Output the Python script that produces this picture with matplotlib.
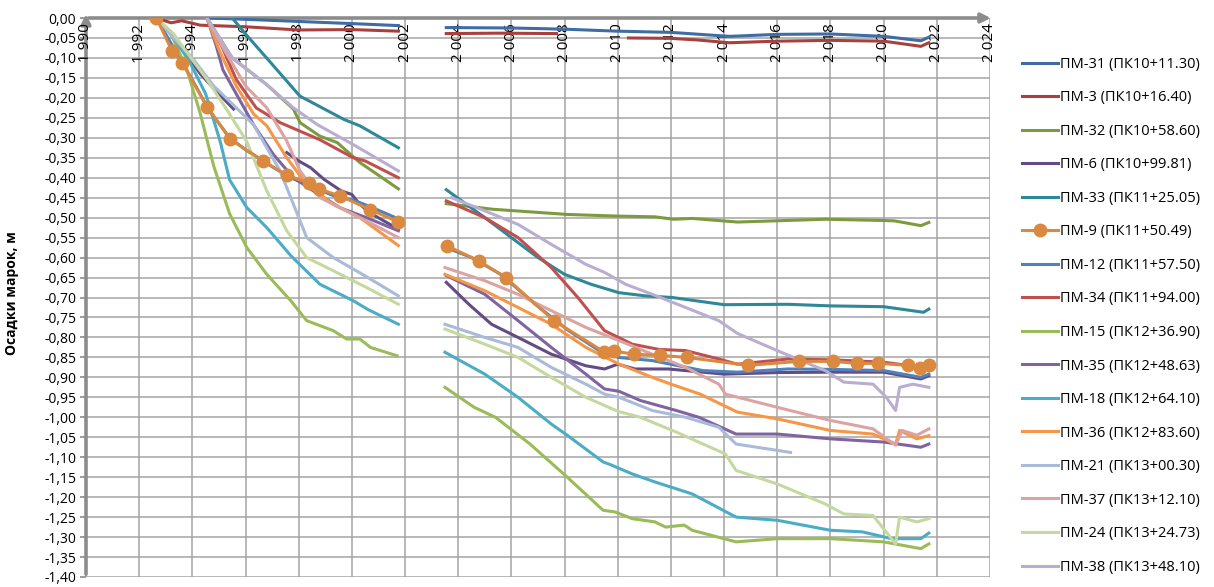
import numpy as np
import matplotlib
matplotlib.use("Agg")
import matplotlib.pyplot as plt
from matplotlib.transforms import blended_transform_factory

nan = np.nan

# ---- data: year (decimal), settlement (m); nan = gap between surveys ----
pm31_t = [1994.55, 1995.5, 1997.0, 1998.5, 2000.0, 2001.75, nan,
          2003.55, 2006.0, 2008.0, 2010.0, 2012.0, 2014.2, 2016.0, 2018.0, 2020.0, 2021.4, 2021.7]
pm31_s = [0.0, -0.002, -0.006, -0.010, -0.014, -0.019, nan,
          -0.024, -0.025, -0.028, -0.033, -0.036, -0.046, -0.041, -0.040, -0.046, -0.057, -0.048]

pm3_t = [1992.65, 1993.2, 1993.6, 1994.3, 1996.0, 1998.0, 2000.0, 2001.75, nan,
         2003.55, 2005.5, 2007.7, nan,
         2010.4, 2012.0, 2013.0, 2014.2, 2016.0, 2018.0, 2020.0, 2021.4, 2021.7]
pm3_s = [0.0, -0.012, -0.007, -0.018, -0.022, -0.030, -0.029, -0.033, nan,
         -0.039, -0.038, -0.039, nan,
         -0.050, -0.051, -0.055, -0.062, -0.058, -0.056, -0.058, -0.071, -0.062]

pm32_t = [1994.55, 1995.5, 1996.8, 1997.8, 1998.05, 1998.8, 1999.45, 2000.3, 2001.05, 2001.75, nan,
          2003.55, 2005.3, 2008.1, 2009.9, 2011.4, 2012.1, 2012.8, 2014.5, 2016.4, 2017.8, 2019.9,
          2020.4, 2021.4, 2021.7]
pm32_s = [0.0, -0.10, -0.167, -0.228, -0.262, -0.296, -0.312, -0.362, -0.396, -0.428, nan,
          -0.465, -0.479, -0.492, -0.496, -0.498, -0.504, -0.502, -0.511, -0.507, -0.504, -0.507,
          -0.508, -0.520, -0.512]

pm6_t = [1993.7, 1994.3, 1995.0, 1995.55, nan,
         1997.55, 1998.0, 1998.45, 1998.95, 1999.6, 2000.0, 2000.25, 2000.65, 2001.75, nan,
         2003.55, 2004.4, 2005.25, 2006.25, 2007.5, 2008.8, 2009.5, 2010.0, 2010.65, 2011.9,
         2014.0, 2016.0, 2018.0, 2020.0, 2021.4, 2021.7]
pm6_s = [-0.085, -0.14, -0.19, -0.228, nan,
         -0.337, -0.358, -0.375, -0.404, -0.433, -0.442, -0.463, -0.487, -0.529, nan,
         -0.662, -0.717, -0.767, -0.800, -0.842, -0.871, -0.879, -0.867, -0.879, -0.879,
         -0.892, -0.888, -0.887, -0.887, -0.904, -0.896]

pm33_t = [1995.5, 1996.0, 1996.95, 1998.05, 1998.4, 1999.7, 2000.3, 2001.75, nan,
          2003.55, 2005.0, 2006.0, 2007.0, 2008.0, 2009.0, 2010.05, 2011.05, 2012.05, 2014.0,
          2016.4, 2018.0, 2020.0, 2021.5, 2021.7]
pm33_s = [0.0, -0.04, -0.112, -0.196, -0.208, -0.254, -0.270, -0.325, nan,
          -0.430, -0.500, -0.550, -0.600, -0.642, -0.667, -0.688, -0.696, -0.700, -0.718,
          -0.717, -0.721, -0.723, -0.737, -0.729]

pm9_t = [1992.65, 1993.24, 1993.62, 1994.55, 1995.43, 1996.67, 1997.56, 1998.37, 1998.75,
         1999.57, 2000.7, 2001.75, nan,
         2003.58, 2004.77, 2005.78, 2007.6, 2009.5, 2009.85, 2010.6, 2011.6, 2012.6, 2014.9,
         2016.8, 2018.1, 2019.0, 2019.8, 2020.9, 2021.35, 2021.7]
pm9_s = [0.0, -0.083, -0.112, -0.222, -0.304, -0.358, -0.394, -0.413, -0.428,
         -0.446, -0.480, -0.511, nan,
         -0.571, -0.608, -0.650, -0.758, -0.837, -0.834, -0.842, -0.845, -0.850, -0.870,
         -0.860, -0.860, -0.865, -0.865, -0.870, -0.877, -0.870]

pm12_t = [1992.65, 1993.3, 1994.0, 1994.6, 1995.4, 1996.0, 1996.7, 1997.6, 1998.5, 1999.5,
          2000.0, 2000.6, 2001.75, nan,
          2003.55, 2004.5, 2005.6, 2006.9, 2008.15, 2009.3, 2010.0, 2011.3, 2013.2, 2014.5,
          2016.4, 2018.0, 2020.0, 2021.4, 2021.7]
pm12_s = [0.0, -0.075, -0.155, -0.228, -0.300, -0.330, -0.360, -0.397, -0.423, -0.450,
          -0.455, -0.470, -0.503, nan,
          -0.575, -0.600, -0.642, -0.717, -0.783, -0.833, -0.850, -0.858, -0.883, -0.887,
          -0.879, -0.880, -0.883, -0.900, -0.892]

pm34_t = [1994.55, 1995.1, 1995.65, 1996.4, 1997.3, 1998.8, 2000.05, 2000.5, 2001.75, nan,
          2003.55, 2005.0, 2006.25, 2007.5, 2008.5, 2009.5, 2010.55, 2011.55, 2012.55, 2013.8,
          2014.5, 2016.4, 2018.0, 2020.0, 2021.45, 2021.7]
pm34_s = [0.0, -0.070, -0.154, -0.225, -0.262, -0.305, -0.350, -0.358, -0.400, nan,
          -0.458, -0.500, -0.550, -0.625, -0.700, -0.783, -0.817, -0.830, -0.833, -0.854,
          -0.867, -0.854, -0.856, -0.862, -0.875, -0.867]

pm15_t = [1992.65, 1993.2, 1993.8, 1994.3, 1994.8, 1995.4, 1996.05, 1996.8, 1997.7, 1998.3,
          1999.3, 1999.8, 2000.3, 2000.7, 2001.7, nan,
          2003.5, 2004.6, 2005.4, 2006.7, 2008.1, 2009.45, 2009.9, 2010.55, 2011.4, 2011.8,
          2012.5, 2012.8, 2014.45, 2016.0, 2018.0, 2020.0, 2021.4, 2021.7]
pm15_s = [0.0, -0.040, -0.130, -0.240, -0.370, -0.490, -0.575, -0.642, -0.708, -0.758,
          -0.783, -0.804, -0.804, -0.825, -0.846, nan,
          -0.925, -0.975, -1.000, -1.067, -1.150, -1.233, -1.237, -1.254, -1.262, -1.275,
          -1.270, -1.283, -1.312, -1.304, -1.304, -1.312, -1.329, -1.317]

pm35_t = [1994.55, 1994.9, 1995.15, 1995.65, 1996.3, 1997.05, 1997.8, 1998.55, 1999.55,
          2000.55, 2001.75, nan,
          2003.55, 2005.0, 2006.25, 2007.5, 2008.8, 2009.5, 2010.05, 2010.85, 2012.2, 2013.05,
          2014.45, 2016.0, 2018.0, 2020.0, 2021.4, 2021.7]
pm35_s = [0.0, -0.070, -0.130, -0.190, -0.267, -0.342, -0.400, -0.433, -0.475,
          -0.500, -0.533, nan,
          -0.645, -0.692, -0.758, -0.825, -0.892, -0.929, -0.935, -0.958, -0.983, -1.000,
          -1.042, -1.042, -1.054, -1.062, -1.075, -1.067]

pm18_t = [1992.65, 1993.3, 1993.9, 1994.5, 1995.05, 1995.4, 1996.05, 1996.8, 1997.7, 1998.8,
          2000.05, 2000.6, 2001.75, nan,
          2003.5, 2005.0, 2006.25, 2007.5, 2008.1, 2009.45, 2009.7, 2010.55, 2011.4, 2012.8,
          2014.45, 2016.0, 2018.0, 2019.2, 2020.3, 2021.4, 2021.7]
pm18_s = [0.0, -0.050, -0.110, -0.190, -0.310, -0.405, -0.475, -0.525, -0.595, -0.667,
          -0.708, -0.730, -0.767, nan,
          -0.837, -0.892, -0.950, -1.017, -1.045, -1.112, -1.118, -1.142, -1.162, -1.192,
          -1.250, -1.258, -1.283, -1.287, -1.304, -1.304, -1.290]

pm36_t = [1994.55, 1995.05, 1995.65, 1996.3, 1996.8, 1997.55, 1998.3, 1999.3, 2000.3, 2001.75, nan,
          2003.5, 2005.0, 2006.25, 2007.5, 2008.8, 2010.05, 2011.3, 2012.0, 2013.1, 2014.5,
          2016.0, 2018.0, 2019.6, 2020.45, 2020.6, 2021.25, 2021.7]
pm36_s = [0.0, -0.087, -0.170, -0.240, -0.270, -0.350, -0.417, -0.467, -0.500, -0.570, nan,
          -0.642, -0.683, -0.725, -0.767, -0.825, -0.867, -0.900, -0.917, -0.942, -0.987,
          -1.004, -1.033, -1.042, -1.067, -1.033, -1.054, -1.046]

pm21_t = [1992.65, 1993.3, 1994.0, 1994.8, 1995.5, 1996.3, 1997.3, 1997.9, 1998.3, 1999.3,
          2000.4, 2001.75, nan,
          2003.5, 2005.0, 2006.25, 2007.5, 2008.8, 2009.5, 2010.05, 2011.3, 2012.55, 2013.8,
          2014.45, 2016.5]
pm21_s = [0.0, -0.050, -0.100, -0.170, -0.215, -0.267, -0.383, -0.483, -0.550, -0.600,
          -0.642, -0.696, nan,
          -0.767, -0.800, -0.825, -0.875, -0.917, -0.942, -0.950, -0.983, -1.000, -1.025,
          -1.067, -1.088]

pm37_t = [1994.55, 1995.2, 1996.0, 1996.8, 1997.55, 1998.05, 1998.8, 1999.8, 2000.8, 2001.75, nan,
          2003.5, 2005.0, 2006.25, 2007.5, 2008.8, 2010.05, 2011.3, 2012.55, 2013.8, 2014.05,
          2016.0, 2018.0, 2019.6, 2020.45, 2020.7, 2021.25, 2021.7]
pm37_s = [0.0, -0.080, -0.170, -0.225, -0.308, -0.383, -0.450, -0.483, -0.517, -0.550, nan,
          -0.625, -0.658, -0.692, -0.733, -0.775, -0.808, -0.842, -0.875, -0.917, -0.942,
          -0.975, -1.008, -1.029, -1.070, -1.033, -1.045, -1.029]

pm24_t = [1992.65, 1993.3, 1993.9, 1994.55, 1995.3, 1996.05, 1996.8, 1997.55, 1998.3, 1999.3,
          2000.55, 2001.75, nan,
          2003.5, 2005.0, 2006.25, 2007.5, 2008.8, 2010.0, 2010.85, 2012.2, 2014.05, 2014.45,
          2016.0, 2017.8, 2018.5, 2019.6, 2020.45, 2020.6, 2021.25, 2021.7]
pm24_s = [0.0, -0.040, -0.096, -0.154, -0.230, -0.310, -0.433, -0.533, -0.600, -0.633,
          -0.675, -0.717, nan,
          -0.779, -0.817, -0.850, -0.900, -0.950, -0.985, -1.000, -1.037, -1.092, -1.133,
          -1.167, -1.217, -1.242, -1.246, -1.317, -1.250, -1.262, -1.254]

pm38_t = [1994.55, 1995.5, 1996.8, 1997.8, 1998.7, 2000.05, 2001.75, nan,
          2003.75, 2005.0, 2006.25, 2007.5, 2008.8, 2009.5, 2010.3, 2011.3, 2012.55, 2013.8,
          2014.5, 2016.0, 2017.8, 2018.5, 2019.6, 2020.1, 2020.45, 2020.6, 2021.1, 2021.7]
pm38_s = [0.0, -0.100, -0.167, -0.225, -0.267, -0.317, -0.383, nan,
          -0.450, -0.483, -0.517, -0.567, -0.617, -0.637, -0.667, -0.692, -0.725, -0.758,
          -0.790, -0.833, -0.883, -0.912, -0.917, -0.950, -0.983, -0.925, -0.917, -0.925]

labels = ["ПМ-31 (ПК10+11.30)", "ПМ-3 (ПК10+16.40)", "ПМ-32 (ПК10+58.60)", "ПМ-6 (ПК10+99.81)",
          "ПМ-33 (ПК11+25.05)", "ПМ-9 (ПК11+50.49)", "ПМ-12 (ПК11+57.50)", "ПМ-34 (ПК11+94.00)",
          "ПМ-15 (ПК12+36.90)", "ПМ-35 (ПК12+48.63)", "ПМ-18 (ПК12+64.10)", "ПМ-36 (ПК12+83.60)",
          "ПМ-21 (ПК13+00.30)", "ПМ-37 (ПК13+12.10)", "ПМ-24 (ПК13+24.73)", "ПМ-38 (ПК13+48.10)"]
series = [(pm31_t, pm31_s), (pm3_t, pm3_s), (pm32_t, pm32_s), (pm6_t, pm6_s),
          (pm33_t, pm33_s), (pm9_t, pm9_s), (pm12_t, pm12_s), (pm34_t, pm34_s),
          (pm15_t, pm15_s), (pm35_t, pm35_s), (pm18_t, pm18_s), (pm36_t, pm36_s),
          (pm21_t, pm21_s), (pm37_t, pm37_s), (pm24_t, pm24_s), (pm38_t, pm38_s)]
colors = ["#3E6CA3", "#A8413E", "#7C9B3F", "#634B85", "#2F8898", "#DA893F", "#4F81BD", "#C0504D",
          "#9BBB59", "#8064A2", "#4BACC6", "#F79646", "#A9BBD8", "#DBA3A1", "#C5D89F", "#B9AED2"]

plt.rcParams['font.family'] = ['Open Sans', 'DejaVu Sans']
fig = plt.figure(figsize=(12.14, 5.87), dpi=100)
ax = fig.add_axes([86 / 1214, 10 / 587, 904 / 1214, 559 / 587])

for (t, s), lab, c in zip(series, labels, colors):
    if lab.startswith("ПМ-9 "):
        ax.plot(t, s, color=c, lw=2.2, marker='o', ms=9, label=lab, zorder=3)
    else:
        ax.plot(t, s, color=c, lw=2.2, label=lab, zorder=2)

yvals = np.arange(-1.40, 0.001, 0.05)
ax.set_xlim(1990, 2024)
ax.set_ylim(-1.40, 0.0)
ax.set_xticks(np.arange(1990, 2025, 2))
ax.set_yticks(yvals)
ax.set_yticklabels([("%.2f" % v).replace(".", ",").replace("-0,00", "0,00") for v in yvals],
                   fontsize=10)
ax.tick_params(axis='x', labelbottom=False, length=0)
ax.tick_params(axis='y', length=4, width=1.2, color='#8c8c8c', pad=3)
ax.grid(True, color='#a4a4a4', lw=1.1)
ax.set_axisbelow(True)
for sp in ['right', 'bottom', 'top', 'left']:
    ax.spines[sp].set_visible(False)

# axes with arrows, Excel style
ax.annotate('', xy=(1.004, 1.0), xytext=(0, 1.0), xycoords='axes fraction',
            arrowprops=dict(arrowstyle='-|>', color='#8c8c8c', lw=2.6, mutation_scale=14), zorder=1)
ax.annotate('', xy=(0, 1.012), xytext=(0, 0), xycoords='axes fraction',
            arrowprops=dict(arrowstyle='-|>', color='#8c8c8c', lw=2.6, mutation_scale=14), zorder=1)

trans = blended_transform_factory(ax.transData, ax.transAxes)
for yr in range(1990, 2025, 2):
    ax.text(yr, 0.99, "%d %03d" % (yr // 1000, yr % 1000), transform=trans, rotation=90,
            ha='center', va='top', fontsize=11, zorder=1)

fig.text(12 / 1214, 0.5, "Осадки марок, м", rotation=90, fontsize=10, fontweight='bold',
         ha='center', va='center')

fig.legend(loc='upper left', bbox_to_anchor=(1016 / 1214, 1 - 51 / 587), frameon=False,
           fontsize=10.5, handlelength=2.5, handletextpad=0.15, labelspacing=1.27, borderaxespad=0)

fig.savefig("out.png", dpi=100)
